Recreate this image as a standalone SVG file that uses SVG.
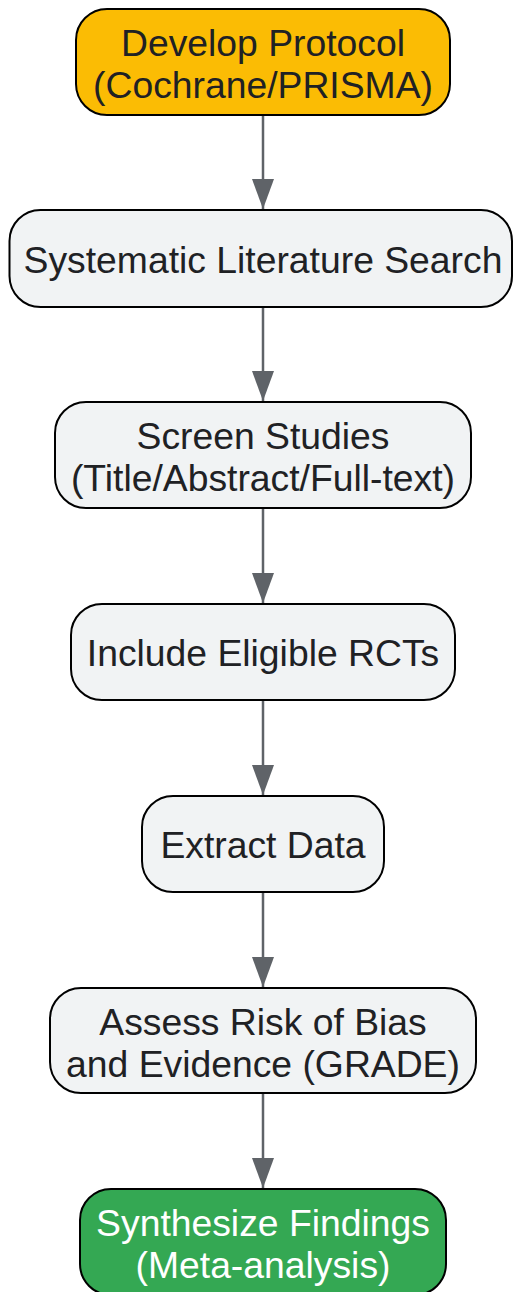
<svg xmlns="http://www.w3.org/2000/svg" width="513" height="1292" viewBox="0 0 513 1292">
  <defs>
    <style>
      .node rect { stroke: #000000; stroke-width: 2; }
      .std rect { fill: #F1F3F4; }
      .start rect { fill: #FBBC04; }
      .end rect { fill: #34A853; }
      text { font-family: "Liberation Sans", Arial, sans-serif; font-size: 37.3px; text-anchor: middle; fill: #202124; }
      .end text { fill: #FFFFFF; }
      .edge { stroke: #5F6368; stroke-width: 2.5; fill: none; marker-end: url(#arrow); }
    </style>
    <marker id="arrow" markerUnits="userSpaceOnUse" markerWidth="30" markerHeight="22" refX="30" refY="11" orient="auto">
      <path d="M0,0 L30,11 L0,22 z" fill="#5F6368"/>
    </marker>
  </defs>
  <rect x="0" y="0" width="513" height="1292" fill="#FFFFFF"/>
  <g id="connectors">
    <line class="edge" x1="263" y1="116" x2="263" y2="209"/>
    <line class="edge" x1="263" y1="308" x2="263" y2="401"/>
    <line class="edge" x1="263" y1="509" x2="263" y2="603"/>
    <line class="edge" x1="263" y1="701" x2="263" y2="795"/>
    <line class="edge" x1="263" y1="893" x2="263" y2="987"/>
    <line class="edge" x1="263" y1="1094" x2="263" y2="1188"/>
  </g>
  <g id="node-protocol" class="node start">
    <rect x="76" y="9" width="374" height="106" rx="31"/>
    <text x="263" y="56">Develop Protocol</text>
    <text x="263" y="98">(Cochrane/PRISMA)</text>
  </g>
  <g id="node-search" class="node std">
    <rect x="9.5" y="210" width="502.5" height="97" rx="31"/>
    <text x="263" y="273">Systematic Literature Search</text>
  </g>
  <g id="node-screen" class="node std">
    <rect x="55" y="402" width="416" height="106" rx="31"/>
    <text x="263" y="449">Screen Studies</text>
    <text x="263" y="491">(Title/Abstract/Full-text)</text>
  </g>
  <g id="node-include" class="node std">
    <rect x="71" y="604" width="384" height="96" rx="31"/>
    <text x="263" y="666">Include Eligible RCTs</text>
  </g>
  <g id="node-extract" class="node std">
    <rect x="142" y="796" width="242" height="96" rx="31"/>
    <text x="263" y="858">Extract Data</text>
  </g>
  <g id="node-assess" class="node std">
    <rect x="50" y="988" width="426" height="105" rx="31"/>
    <text x="263" y="1035">Assess Risk of Bias</text>
    <text x="263" y="1077">and Evidence (GRADE)</text>
  </g>
  <g id="node-synthesize" class="node end">
    <rect x="80" y="1189" width="366" height="106" rx="31"/>
    <text x="263" y="1236">Synthesize Findings</text>
    <text x="263" y="1278">(Meta-analysis)</text>
  </g>
</svg>
